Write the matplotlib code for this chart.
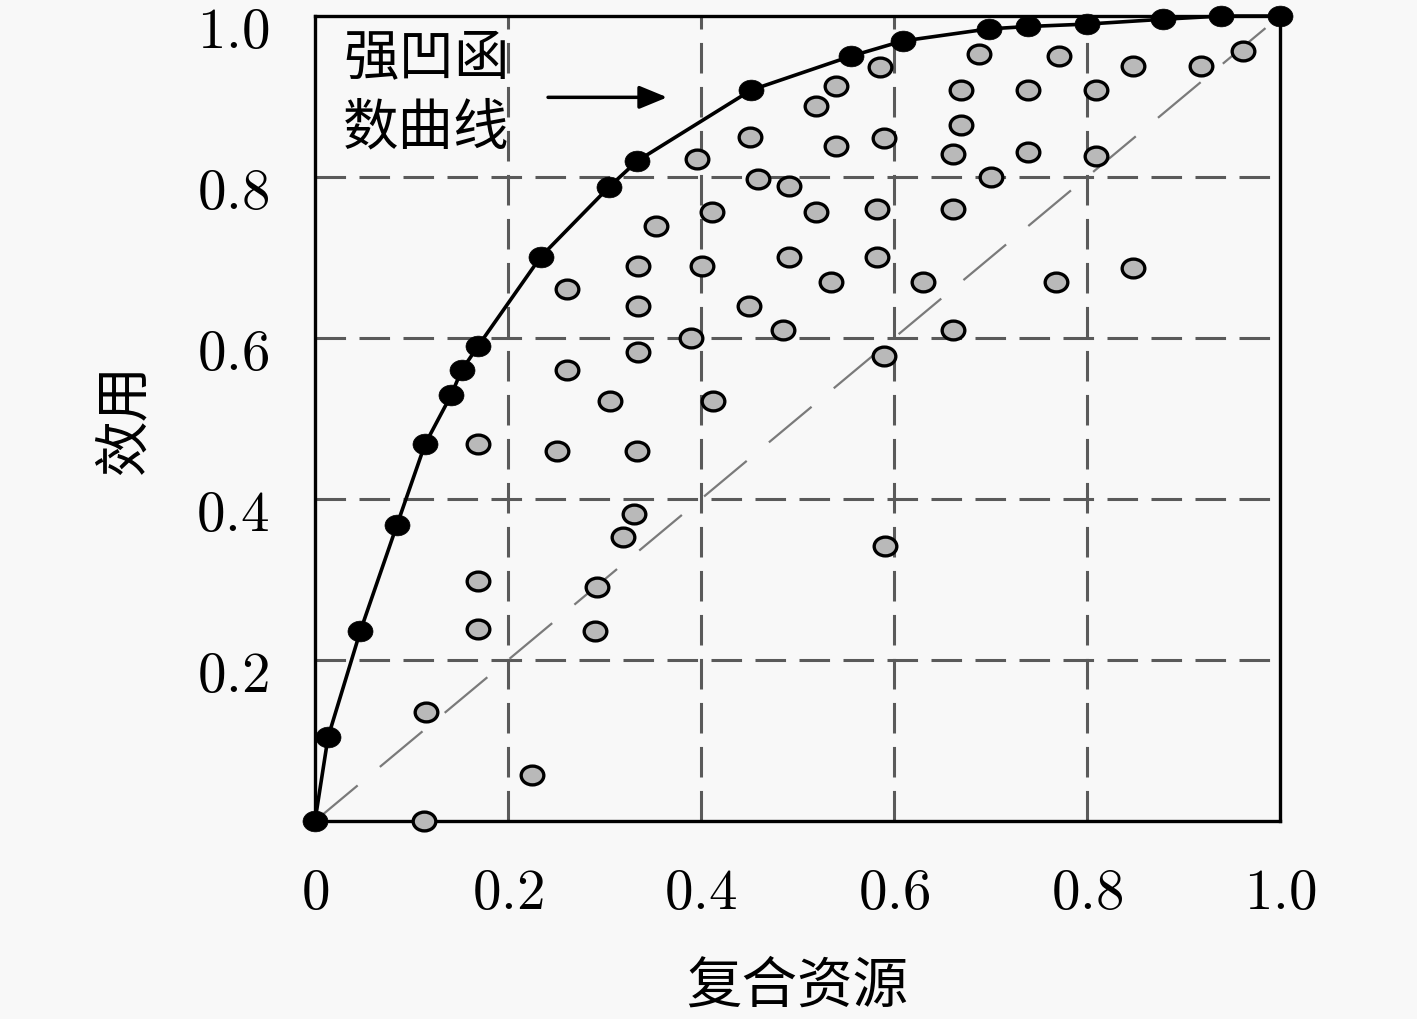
import matplotlib
matplotlib.use("Agg")
import matplotlib.pyplot as plt
from matplotlib.path import Path
from matplotlib.transforms import Affine2D, ScaledTranslation

# strong concave utility curve (black dots)
curve_x = [0.0, 0.0135, 0.047, 0.085, 0.114, 0.141, 0.152, 0.169, 0.234, 0.305,
           0.334, 0.452, 0.555, 0.609, 0.698, 0.739, 0.800, 0.879, 0.939, 1.0]
curve_y = [0.0, 0.104, 0.236, 0.368, 0.468, 0.529, 0.560, 0.590, 0.701, 0.788,
           0.820, 0.908, 0.950, 0.969, 0.984, 0.987, 0.990, 0.996, 1.0, 1.0]

# scattered samples (grey dots)
pts_x = [0.585, 0.540, 0.519, 0.688, 0.771, 0.848, 0.918, 0.962, 0.669, 0.739,
         0.809, 0.669, 0.540, 0.590, 0.661, 0.739, 0.809, 0.491, 0.519, 0.582,
         0.661, 0.701, 0.491, 0.582, 0.535, 0.630, 0.768, 0.848, 0.485, 0.661,
         0.590, 0.451, 0.396, 0.459, 0.411, 0.353, 0.335, 0.401, 0.261, 0.335,
         0.450, 0.390, 0.335, 0.261, 0.306, 0.412, 0.169, 0.251, 0.334, 0.331,
         0.319, 0.591, 0.169, 0.292, 0.169, 0.290, 0.115, 0.225, 0.113]
pts_y = [0.937, 0.913, 0.888, 0.953, 0.950, 0.938, 0.938, 0.957, 0.908, 0.908,
         0.908, 0.865, 0.839, 0.848, 0.829, 0.831, 0.826, 0.789, 0.757, 0.760,
         0.760, 0.800, 0.701, 0.701, 0.670, 0.670, 0.670, 0.687, 0.610, 0.610,
         0.578, 0.850, 0.822, 0.798, 0.757, 0.739, 0.689, 0.689, 0.661, 0.640,
         0.640, 0.600, 0.583, 0.560, 0.522, 0.522, 0.468, 0.460, 0.460, 0.381,
         0.353, 0.342, 0.298, 0.291, 0.239, 0.236, 0.135, 0.057, 0.0]

xticks = [0, 0.2, 0.4, 0.6, 0.8, 1.0]
xtick_labels = ["0", "0.2", "0.4", "0.6", "0.8", "1.0"]
yticks = [0.2, 0.4, 0.6, 0.8, 1.0]
ytick_labels = ["0.2", "0.4", "0.6", "0.8", "1.0"]

plt.rcParams["font.family"] = ["Noto Sans CJK SC", "DejaVu Sans"]
plt.rcParams["mathtext.fontset"] = "cm"

bg = "#f8f8f8"
fig = plt.figure(figsize=(14.17, 10.2), dpi=100, facecolor=bg)
ax = fig.add_axes([0.2223, 0.1941, 0.6810, 0.7892], facecolor=bg)

# slightly flattened circle, like the dots in the original
oval = Path.unit_circle().transformed(Affine2D().scale(1.0, 0.83))

ax.set_xlim(0, 1)
ax.set_ylim(0, 1)

# grid
for g in [0.2, 0.4, 0.6, 0.8]:
    ax.axvline(g, color="#5a5a5a", lw=2.2, ls=(0, (10, 4.4)), zorder=1)
    ax.axhline(g, color="#5a5a5a", lw=2.2, ls=(0, (10, 4.4)), zorder=1)

# diagonal reference
ax.plot([0, 1], [0, 1], color="#7a7a7a", lw=1.6, ls=(0, (25, 13)), zorder=2)

ax.scatter(pts_x, pts_y, s=16.3 ** 2, marker=oval, facecolor="#b9b9b9",
           edgecolor="black", linewidths=2.4, zorder=4, clip_on=False)

ax.plot(curve_x, curve_y, color="black", lw=2.6, zorder=5, clip_on=False)
ax.scatter(curve_x, curve_y, s=18 ** 2, marker=oval, facecolor="black",
           edgecolor="black", linewidths=0.5, zorder=6, clip_on=False)

ax.text(0.029, 0.947, "强凹函", fontsize=40, ha="left", va="center", zorder=7)
ax.text(0.029, 0.861, "数曲线", fontsize=40, ha="left", va="center", zorder=7)
ax.annotate("", xy=(0.365, 0.899), xytext=(0.2415, 0.899),
            arrowprops=dict(arrowstyle="-|>,head_length=1.7,head_width=0.7",
                            color="black", lw=2.5, shrinkA=0, shrinkB=0))

ax.set_xticks(xticks)
ax.set_xticklabels(["$" + t + "$" for t in xtick_labels])
ax.set_yticks(yticks)
ax.set_yticklabels(["$" + t + "$" for t in ytick_labels])
ax.tick_params(axis="both", length=0, labelsize=41)
ax.tick_params(axis="x", pad=30)
ax.tick_params(axis="y", pad=33)
# the y labels sit a little below their grid lines in the original
shift = ScaledTranslation(0, -6 / 72, fig.dpi_scale_trans)
for lab in ax.get_yticklabels():
    lab.set_transform(lab.get_transform() + shift)

ax.set_xlabel("复合资源", fontsize=40, va="center")
ax.xaxis.set_label_coords(0.5, -0.205)
ax.set_ylabel("效用", fontsize=40, va="center")
ax.yaxis.set_label_coords(-0.197, 0.5)

for sp in ax.spines.values():
    sp.set_linewidth(2.4)
    sp.set_color("black")
    sp.set_zorder(3)

fig.savefig("out.png", dpi=100, facecolor=bg)
